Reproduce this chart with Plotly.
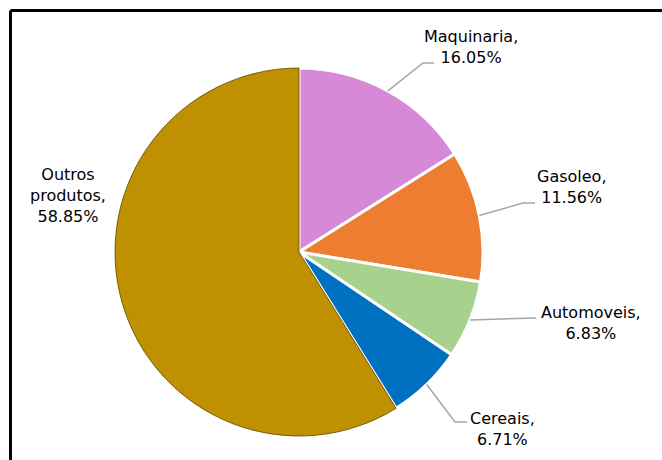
import math
import plotly.graph_objects as go

# ---- data ----
categories = ["Maquinaria", "Gasoleo", "Automoveis", "Cereais", "Outros produtos"]
shares = [16.05, 11.56, 6.83, 6.71, 58.85]
label_texts = ["Maquinaria,<br>16.05%", "Gasoleo,<br>11.56%", "Automoveis,<br>6.83%",
               "Cereais,<br>6.71%", "Outros<br>produtos,<br>58.85%"]
colors = ["#D689D6", "#ED7D31", "#A9D18E", "#0070C0", "#BF9000"]

# ---- layout constants (pixels) ----
W, H = 662, 460
CX, CY, R = 299, 252, 184
FONT = "DejaVu Sans"

# label centres and leader elbows (style / placement)
label_pos = [(471, 47), (572, 187), (591, 323), (502, 429), (68, 195)]
elbows = [[(423, 63), (434, 63)],
          [(523, 203), (535, 203)],
          [(536, 318)],
          [(455, 422), (467, 422)],
          None]

def px(x):
    return x / W

def py(y):
    return 1 - y / H

fig = go.Figure()
fig.add_trace(go.Pie(
    labels=categories,
    values=shares,
    sort=False,
    direction="clockwise",
    rotation=0,
    textinfo="none",
    hoverinfo="label+percent",
    marker=dict(colors=colors,
                line=dict(color=["white", "white", "white", "white", "#5a4500"],
                          width=[3, 3, 3, 3, 0.8])),
    domain=dict(x=[px(CX - R), px(CX + R)], y=[py(CY + R), py(CY - R)]),
    showlegend=False,
))

shapes = []
annotations = []
total = sum(shares)
cum = 0.0
for i, v in enumerate(shares):
    mid = (cum + v / 2) / total * 2 * math.pi
    cum += v
    sx = CX + R * math.sin(mid)
    sy = CY - R * math.cos(mid)
    if elbows[i]:
        pts = [(sx, sy)] + elbows[i]
        path = "M {} {}".format(px(pts[0][0]), py(pts[0][1]))
        for (x, y) in pts[1:]:
            path += " L {} {}".format(px(x), py(y))
        shapes.append(dict(type="path", xref="paper", yref="paper", path=path,
                           line=dict(color="#A6A6A6", width=1.5)))
    lx, ly = label_pos[i]
    annotations.append(dict(x=px(lx), y=py(ly), xref="paper", yref="paper",
                            text=label_texts[i], showarrow=False, align="center",
                            xanchor="center", yanchor="middle",
                            font=dict(family=FONT, size=16, color="#000000")))

# frame (left and top edges visible)
shapes.append(dict(type="line", xref="paper", yref="paper",
                   x0=px(10.5), x1=1.01, y0=py(10.5), y1=py(10.5),
                   line=dict(color="black", width=3)))
shapes.append(dict(type="line", xref="paper", yref="paper",
                   x0=px(10.5), x1=px(10.5), y0=py(10.5), y1=-0.01,
                   line=dict(color="black", width=3)))

fig.update_layout(
    width=W, height=H,
    margin=dict(l=0, r=0, t=0, b=0),
    paper_bgcolor="white",
    plot_bgcolor="white",
    shapes=shapes,
    annotations=annotations,
)

fig.write_html("out.html", config={"displayModeBar": False},
               post_script="document.body.style.margin='0';document.body.style.overflow='hidden';")
